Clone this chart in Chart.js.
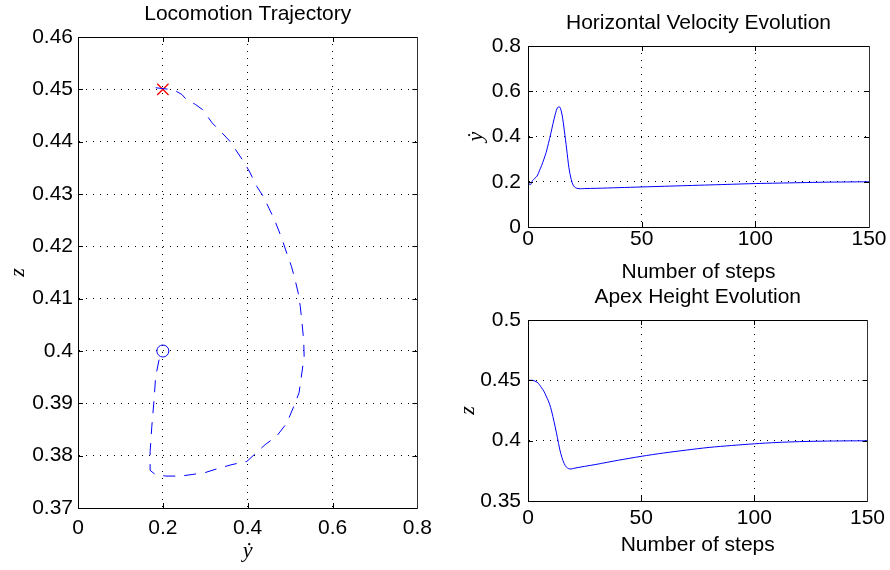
<!DOCTYPE html>
<html>
<head>
<meta charset="utf-8">
<script src="https://cdn.jsdelivr.net/npm/chart.js@4/dist/chart.umd.min.js"></script>
<style>
  html, body { margin: 0; padding: 0; background: #fff; }
  #figure { position: relative; width: 890px; height: 570px; overflow: hidden; }
  #figure canvas { position: absolute; }
</style>
</head>
<body>
<div id="figure">
  <canvas id="trajChart" width="440" height="570" style="left:0;top:0"></canvas>
  <canvas id="velChart" width="430" height="285" style="left:460px;top:0"></canvas>
  <canvas id="apexChart" width="430" height="285" style="left:460px;top:285px"></canvas>
</div>
<script>
// Locomotion trajectory (velocity vs apex height)
const trajVel = [0.183, 0.215, 0.230, 0.245, 0.255, 0.277, 0.294, 0.316, 0.338, 0.359,
    0.377, 0.393, 0.406, 0.421, 0.437, 0.450, 0.463, 0.480, 0.492, 0.503,
    0.512, 0.519, 0.524, 0.528, 0.532, 0.533, 0.528, 0.521, 0.507, 0.492,
    0.468, 0.441, 0.398, 0.363, 0.328, 0.301, 0.269, 0.242, 0.207, 0.182,
    0.170, 0.170, 0.174, 0.179, 0.183, 0.191, 0.200];
const trajHeight = [0.4503, 0.4500, 0.4497, 0.4490, 0.4481, 0.4471, 0.4461, 0.4436, 0.4418, 0.4400,
    0.4378, 0.4359, 0.4340, 0.4315, 0.4295, 0.4273, 0.4251, 0.4216, 0.4187, 0.4162,
    0.4135, 0.4111, 0.4085, 0.4054, 0.4020, 0.3990, 0.3960, 0.3920, 0.3891, 0.3862,
    0.3837, 0.3821, 0.3789, 0.3783, 0.3775, 0.3768, 0.3764, 0.3761, 0.3761, 0.3764,
    0.3772, 0.3808, 0.3856, 0.3904, 0.3951, 0.3983, 0.4000];
const startPoint = [0.2, 0.45];
const endPoint = [0.2, 0.4];

// Horizontal velocity per step
const velSteps = [0, 1, 2, 3, 4, 5, 6, 7, 8, 9, 10, 11, 12, 13, 14, 15, 16, 17, 18, 19,
    20, 21, 22, 23, 25, 30, 40, 50, 60, 70, 80, 90, 100, 110, 120, 130, 140, 150];
const velValues = [0.200, 0.186, 0.205, 0.215, 0.225, 0.248, 0.272, 0.300, 0.330, 0.370,
    0.412, 0.457, 0.498, 0.528, 0.530, 0.495, 0.425, 0.345, 0.262, 0.210,
    0.182, 0.173, 0.170, 0.169, 0.170, 0.171, 0.174, 0.177, 0.180, 0.183,
    0.186, 0.189, 0.192, 0.194, 0.196, 0.198, 0.199, 0.200];

// Apex height per step
const apexSteps = [0, 2, 4, 5, 6, 7, 8, 9, 10, 11, 12, 13, 14, 15, 16, 17, 18, 19, 20,
    25, 30, 40, 50, 60, 70, 80, 90, 100, 110, 120, 130, 140, 150];
const apexValues = [0.4500, 0.4500, 0.4485, 0.4465, 0.4438, 0.4410, 0.4370, 0.4330, 0.4275, 0.4200,
    0.4115, 0.4025, 0.3930, 0.3860, 0.3810, 0.3780, 0.3768, 0.3765, 0.3770,
    0.3787, 0.3803, 0.3838, 0.3870, 0.3898, 0.3922, 0.3944, 0.3960, 0.3974, 0.3985,
    0.3992, 0.3996, 0.3998, 0.3999];

// Tick labels
const trajXTicks = [0, 0.2, 0.4, 0.6, 0.8];
const trajYTicks = [0.37, 0.38, 0.39, 0.40, 0.41, 0.42, 0.43, 0.44, 0.45, 0.46];
const stepTicks = [0, 50, 100, 150];
const velYTicks = [0, 0.2, 0.4, 0.6, 0.8];
const apexYTicks = [0.35, 0.40, 0.45, 0.50];

const SANS = "'Liberation Sans', Arial, sans-serif";
const MATH = "'Liberation Serif', 'DejaVu Serif', serif";

const toPoints = (xs, ys) => xs.map((x, i) => ({ x: x, y: ys[i] }));
const fmt = v => String(parseFloat(v.toFixed(2)));

// MATLAB style box: full frame plus short inward tick marks on all four sides
const boxPlugin = {
    id: 'matlabBox',
    afterDraw(chart) {
        const { ctx, chartArea: a, scales } = chart;
        const len = 5;
        const px = v => Math.round(v) + 0.5;
        ctx.save();
        ctx.strokeStyle = '#000';
        ctx.lineWidth = 1;
        ctx.beginPath();
        ctx.rect(px(a.left), px(a.top), Math.round(a.right) - Math.round(a.left), Math.round(a.bottom) - Math.round(a.top));
        scales.x.ticks.forEach(t => {
            const x = px(scales.x.getPixelForValue(t.value));
            ctx.moveTo(x, a.bottom); ctx.lineTo(x, a.bottom - len);
            ctx.moveTo(x, a.top); ctx.lineTo(x, a.top + len);
        });
        scales.y.ticks.forEach(t => {
            const y = px(scales.y.getPixelForValue(t.value));
            ctx.moveTo(a.left, y); ctx.lineTo(a.left + len, y);
            ctx.moveTo(a.right, y); ctx.lineTo(a.right - len, y);
        });
        ctx.stroke();
        // the right edge is drawn a bit heavier in the original
        ctx.fillStyle = '#333';
        ctx.fillRect(Math.round(a.right), Math.round(a.top), 1, Math.round(a.bottom) - Math.round(a.top) + 1);
        ctx.restore();
    }
};

function makeAxis(opts) {
    return {
        type: 'linear',
        min: opts.ticks[0],
        max: opts.ticks[opts.ticks.length - 1],
        afterBuildTicks: scale => { scale.ticks = opts.ticks.map(v => ({ value: v })); },
        afterFit: scale => {
            if (opts.width !== undefined) scale.width = opts.width;
            if (opts.height !== undefined) scale.height = opts.height;
        },
        grid: { color: '#000', lineWidth: 1, drawTicks: false },
        border: { display: true, color: '#000', dash: [1, 6] },
        ticks: {
            color: '#000',
            padding: opts.tickPad,
            font: { family: SANS, size: 21 },
            callback: v => fmt(v),
            maxRotation: 0
        },
        title: {
            display: true,
            text: opts.label,
            color: '#000',
            font: opts.labelFont,
            padding: opts.labelPad
        }
    };
}

function makeChart(id, cfg) {
    return new Chart(document.getElementById(id), {
        type: 'scatter',
        data: { datasets: cfg.datasets },
        options: {
            responsive: false,
            animation: false,
            devicePixelRatio: 1,
            layout: { padding: { left: 0, right: cfg.rightPad, top: 0, bottom: 0 } },
            plugins: {
                legend: { display: false },
                tooltip: { enabled: false },
                title: {
                    display: true,
                    text: cfg.title,
                    color: '#000',
                    fullSize: false,
                    font: { family: SANS, size: 21, weight: 'normal' },
                    padding: cfg.titlePad
                }
            },
            scales: { x: cfg.x, y: cfg.y }
        },
        plugins: [boxPlugin]
    });
}

const mathFont = { family: MATH, size: 22, style: 'italic' };
const labelFont = { family: SANS, size: 21 };

makeChart('trajChart', {
    title: 'Locomotion Trajectory',
    titlePad: { top: 2, bottom: 9.8 },
    rightPad: 20,
    datasets: [
        {
            data: toPoints(trajVel, trajHeight),
            showLine: true,
            borderColor: '#0000ff',
            borderWidth: 1,
            borderDash: [12, 9],
            pointRadius: 0,
            tension: 0
        },
        {
            data: [{ x: startPoint[0], y: startPoint[1] }],
            pointStyle: 'crossRot',
            pointRadius: 8,
            borderColor: '#ff0000',
            borderWidth: 1.3
        },
        {
            data: [{ x: endPoint[0], y: endPoint[1] }],
            pointStyle: 'circle',
            pointRadius: 6,
            borderColor: '#0000ff',
            backgroundColor: 'rgba(0,0,0,0)',
            borderWidth: 1
        }
    ],
    x: makeAxis({ ticks: trajXTicks, height: 62, tickPad: 8, label: '\u1E8F', labelFont: mathFont, labelPad: { top: 0, bottom: 6 } }),
    y: makeAxis({ ticks: trajYTicks, width: 78, tickPad: 5, label: 'z', labelFont: mathFont, labelPad: { top: 5, bottom: 0 } })
});

makeChart('velChart', {
    title: 'Horizontal Velocity Evolution',
    titlePad: { top: 10.4, bottom: 10.4 },
    rightPad: 21,
    datasets: [{
        data: toPoints(velSteps, velValues),
        showLine: true,
        borderColor: '#0000ff',
        borderWidth: 1,
        pointRadius: 0,
        tension: 0.3
    }],
    x: makeAxis({ ticks: stepTicks, height: 58, tickPad: 0, label: 'Number of steps', labelFont: labelFont, labelPad: { top: 0, bottom: 0 } }),
    y: makeAxis({ ticks: velYTicks, width: 68, tickPad: 7, label: '\u1E8F', labelFont: mathFont, labelPad: { top: 3, bottom: 0 } })
});

makeChart('apexChart', {
    title: 'Apex Height Evolution',
    titlePad: { top: 0, bottom: 9.8 },
    rightPad: 21,
    datasets: [{
        data: toPoints(apexSteps, apexValues),
        showLine: true,
        borderColor: '#0000ff',
        borderWidth: 1,
        pointRadius: 0,
        tension: 0.3
    }],
    x: makeAxis({ ticks: stepTicks, height: 69, tickPad: 5, label: 'Number of steps', labelFont: labelFont, labelPad: { top: 0, bottom: 12 } }),
    y: makeAxis({ ticks: apexYTicks, width: 68, tickPad: 7, label: 'z', labelFont: mathFont, labelPad: { top: -5, bottom: 0 } })
});
</script>
</body>
</html>
